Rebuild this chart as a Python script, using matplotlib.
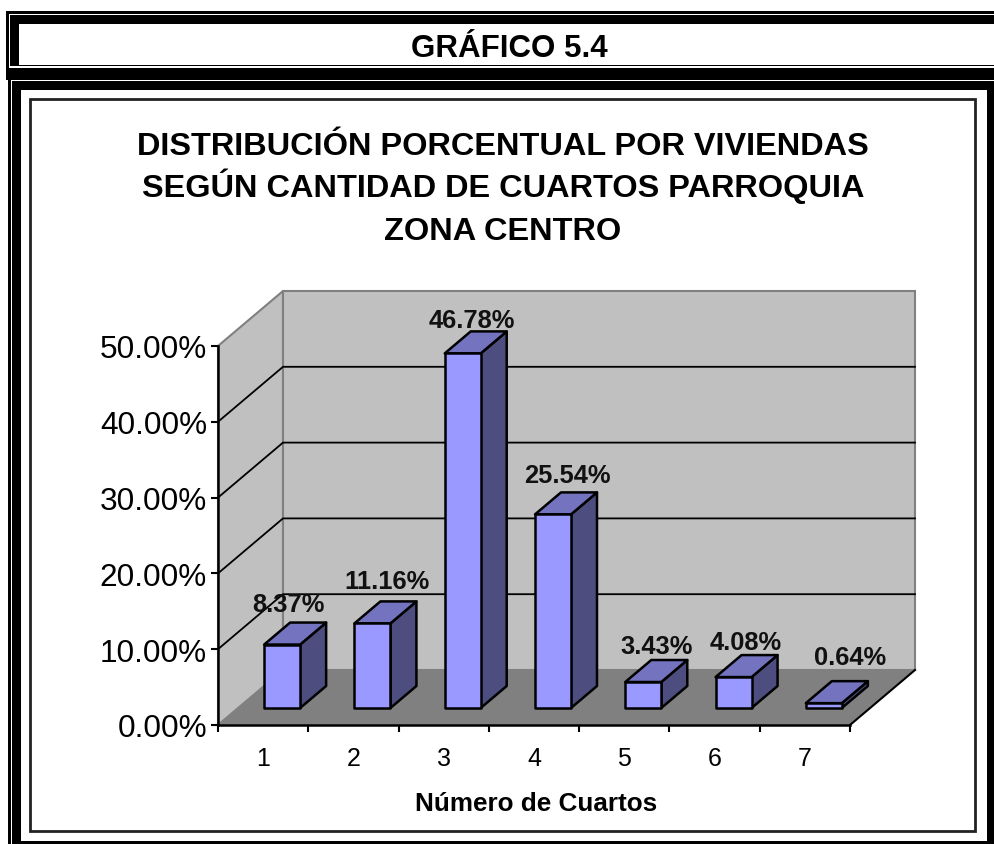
import matplotlib
matplotlib.use('Agg')
import matplotlib.pyplot as plt
from matplotlib.patches import Rectangle, Polygon

plt.rcParams['font.family'] = ['Liberation Sans', 'DejaVu Sans']

W, H = 995, 845

cuartos = ['1', '2', '3', '4', '5', '6', '7']
porcentajes = [8.37, 11.16, 46.78, 25.54, 3.43, 4.08, 0.64]
y_ticks = [0, 10, 20, 30, 40, 50]
header = 'GRÁFICO 5.4'
titulo = ['DISTRIBUCIÓN PORCENTUAL POR VIVIENDAS', 'SEGÚN CANTIDAD DE CUARTOS PARROQUIA', 'ZONA CENTRO']
xlabel = 'Número de Cuartos'

# label offsets from the bar's top centre, in pixels
label_dx = [6, 15, 9, 14, 13, 12, 26]
label_dy = [19, 20, 11, 17, 14, 13, 24]

fig = plt.figure(figsize=(W / 100, H / 100), dpi=100, facecolor='white')

# frames, in pixel coordinates
bg = fig.add_axes([0, 0, 1, 1])
bg.set_xlim(0, W)
bg.set_ylim(H, 0)
bg.axis('off')


def box(x0, y0, x1, y1, color):
  bg.add_patch(Rectangle((x0, y0), x1 - x0, y1 - y0, fc=color, ec='none', lw=0))


box(6, 12, W, 81, 'black')
box(9, 15, W, 16, 'white')
box(9, 15, 10, 69, 'white')
box(9, 67, W, 69, 'white')
box(19, 25, 994, 66, 'white')
box(8, 81, W, H, 'black')
box(11, 81, W, 82, 'white')
box(11, 81, 12, H, 'white')
box(21, 91, 987, 842, 'white')
bg.add_patch(Rectangle((30, 100), 945, 732, fc='white', ec='#222222', lw=2))

bg.text(509, 57, header, ha='center', va='baseline', fontsize=22.5, fontweight='bold')
for line, y in zip(titulo, [155, 197, 240]):
  bg.text(503, y, line, ha='center', va='baseline', fontsize=23.4, fontweight='bold')
bg.text(536, 811, xlabel, ha='center', va='baseline', fontsize=18.8, fontweight='bold')

# chart front plane
left, right, top, bottom = 218, 850, 347, 726
ax = fig.add_axes([left / W, 1 - bottom / H, (right - left) / W, (bottom - top) / H])
ax.patch.set_alpha(0)
ax.set_xlim(0, 7)
ax.set_ylim(0, 50)

px_x = 7 / (right - left)
px_y = 50 / (bottom - top)
depth_x = 65 * px_x
depth_y = 55 * px_y

# side wall, back wall, floor
ax.add_patch(Polygon([(0, 0), (depth_x, depth_y), (depth_x, 50 + depth_y), (0, 50)],
                     closed=True, fc='#c0c0c0', ec='#808080', lw=1.5, clip_on=False, zorder=1))
ax.add_patch(Polygon([(depth_x, depth_y), (7 + depth_x, depth_y), (7 + depth_x, 50 + depth_y), (depth_x, 50 + depth_y)],
                     closed=True, fc='#c0c0c0', ec='#808080', lw=1.5, clip_on=False, zorder=1))
ax.add_patch(Polygon([(0, 0), (7, 0), (7 + depth_x, depth_y), (depth_x, depth_y)],
                     closed=True, fc='#808080', ec='none', clip_on=False, zorder=1.5))
ax.plot([7, 7 + depth_x], [0, depth_y], color='black', lw=1.5, clip_on=False, zorder=1.6)

for v in y_ticks[1:-1]:
  ax.plot([0, depth_x, 7 + depth_x], [v, v + depth_y, v + depth_y], color='black', lw=1.3,
          clip_on=False, zorder=1.2)

# bars
bar_w = 36 * px_x
bar_dx = 19 * px_x
bar_dy = 17 * px_y
bar_depth_x = 26 * px_x
bar_depth_y = 22 * px_y

for i, v in enumerate(porcentajes):
  x0 = i + 0.5 - bar_w / 2 + bar_dx
  x1 = x0 + bar_w
  y0 = bar_dy
  y1 = y0 + v
  ddx, ddy = bar_depth_x, bar_depth_y
  kw = dict(closed=True, ec='black', lw=1.8, joinstyle='round', clip_on=False, zorder=3)
  ax.add_patch(Polygon([(x1, y0), (x1 + ddx, y0 + ddy), (x1 + ddx, y1 + ddy), (x1, y1)], fc='#4d4d80', **kw))
  ax.add_patch(Polygon([(x0, y1), (x1, y1), (x1 + ddx, y1 + ddy), (x0 + ddx, y1 + ddy)], fc='#7373bf', **kw))
  ax.add_patch(Polygon([(x0, y0), (x1, y0), (x1, y1), (x0, y1)], fc='#9999ff', **kw))
  ax.annotate(f'{v:.2f}%', xy=(i + 0.5 + bar_dx, y1 + ddy),
              xytext=(label_dx[i], label_dy[i]), textcoords='offset pixels',
              ha='center', va='center', fontsize=18.4, fontweight='bold', color='#111111',
              annotation_clip=False, zorder=5)

# axes
for s in ['top', 'right']:
  ax.spines[s].set_visible(False)
for s in ['left', 'bottom']:
  ax.spines[s].set_linewidth(1.8)
  ax.spines[s].set_zorder(2)
ax.set_yticks(y_ticks)
ax.set_yticklabels([f'{v:.2f}%' for v in y_ticks], fontsize=22.7)
ax.tick_params(axis='y', length=5, width=1.5, pad=3)
ax.set_xticks(range(8))
ax.set_xticklabels([])
ax.tick_params(axis='x', which='major', length=5, width=1.5)
ax.set_xticks([i + 0.5 for i in range(7)], minor=True)
ax.set_xticklabels(cuartos, minor=True, fontsize=18)
ax.tick_params(axis='x', which='minor', length=0, pad=15)

fig.savefig('out.png', dpi=100)
